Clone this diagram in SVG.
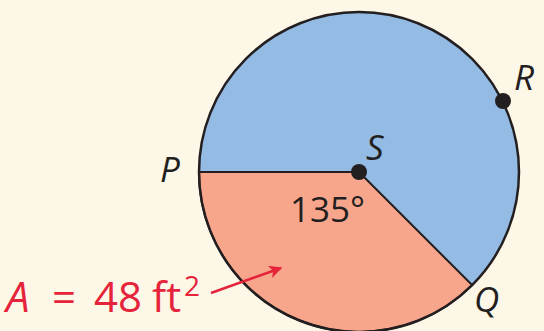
<svg xmlns="http://www.w3.org/2000/svg" width="544" height="331" viewBox="0 0 544 331">
<defs>
<style>
.lbl{font-family:"Open Sans","Liberation Sans",sans-serif;fill:#231f20;font-size:35px}
.it{font-style:italic}
.red{font-family:"Open Sans","Liberation Sans",sans-serif;fill:#e5243b;font-size:42px}
</style>
<marker id="ah" viewBox="0 0 10 10" refX="9" refY="5" markerWidth="18" markerHeight="13" orient="auto" markerUnits="userSpaceOnUse">
<path d="M0,0 L10,5 L0,10 L2.5,5 Z" fill="#e5243b"/>
</marker>
</defs>
<rect width="544" height="331" fill="#fdf7e8"/>
<g id="circle">
<circle cx="359" cy="172" r="160" fill="#93bbe3"/>
<path d="M359,172 L199,172 A160,160 0 0 0 472.1,285.1 Z" fill="#f7a68c" stroke="#231f20" stroke-width="2"/>
<circle cx="359" cy="172" r="160" fill="none" stroke="#231f20" stroke-width="2.5"/>
</g>
<g id="S"><circle cx="359" cy="172" r="8" fill="#231f20"/><text class="lbl it" x="366" y="160">S</text></g>
<g id="R"><circle cx="503" cy="101" r="8" fill="#231f20"/><text class="lbl it" x="514" y="90">R</text></g>
<g id="P"><text class="lbl it" x="160" y="182">P</text></g>
<g id="Q"><text class="lbl it" x="474" y="312">Q</text></g>
<g id="angle"><text class="lbl" x="290" y="222">135°</text></g>
<g id="area"><text class="red" y="312"><tspan x="6" font-style="italic">A</tspan><tspan x="52">=</tspan><tspan x="94">48</tspan><tspan x="152">ft</tspan><tspan x="184" font-size="28" dy="-16">2</tspan></text></g>
<g id="connectors">
<line x1="211" y1="293" x2="281" y2="268" stroke="#e5243b" stroke-width="2.5" marker-end="url(#ah)"/>
</g>
</svg>
